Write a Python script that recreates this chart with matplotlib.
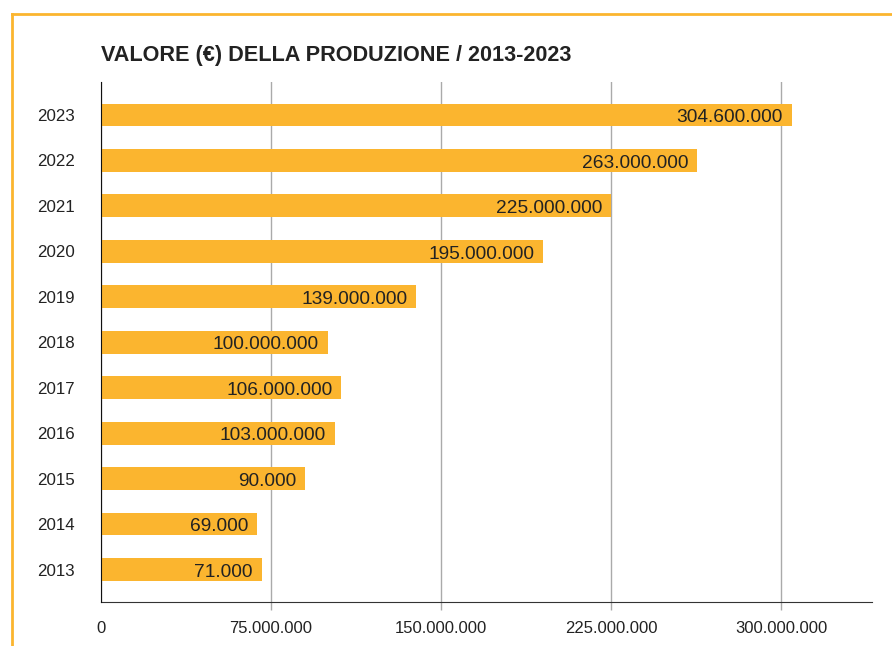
import matplotlib.pyplot as plt
from matplotlib.lines import Line2D

# valore della produzione, milioni di euro
anni = ['2013', '2014', '2015', '2016', '2017', '2018', '2019', '2020', '2021', '2022', '2023']
valori = [71, 69, 90, 103, 106, 100, 139, 195, 225, 263, 304.6]
etichette = ['71.000', '69.000', '90.000', '103.000.000', '106.000.000', '100.000.000',
             '139.000.000', '195.000.000', '225.000.000', '263.000.000', '304.600.000']
tick_x = [0, 75, 150, 225, 300]
tick_lbl = ['0', '75.000.000', '150.000.000', '225.000.000', '300.000.000']

ARANCIO = '#FBB52F'
TESTO = '#222222'

plt.rcParams['font.family'] = ['Liberation Sans', 'DejaVu Sans']

fig = plt.figure(figsize=(8.92, 6.46), dpi=100)
ax = fig.add_axes([101 / 892, 1 - 602 / 646, 771 / 892, 520 / 646])

y = list(range(len(anni)))
ax.barh(y, valori, height=0.5, color=ARANCIO, zorder=2)
for yi, v, t in zip(y, valori, etichette):
    ax.annotate(t, (v, yi), xytext=(-6.5, -0.5), textcoords='offset points',
                ha='right', va='center_baseline', fontsize=13.8, color=TESTO, zorder=3)

ax.set_xlim(0, 340)
ax.set_ylim(-0.715, 10.725)
ax.set_yticks(y)
ax.set_yticklabels(anni, fontsize=12.2, color=TESTO)
ax.set_xticks(tick_x)
ax.set_xticklabels(tick_lbl, fontsize=12, color=TESTO)
ax.tick_params(axis='y', length=0, pad=19)
ax.tick_params(axis='x', length=6, width=1, color='#aaaaaa', pad=8)
ax.xaxis.get_major_ticks()[0].tick1line.set_visible(False)

ax.grid(axis='x', color='#aaaaaa', linewidth=1, zorder=1)
ax.set_axisbelow(True)
for s in ['top', 'right']:
    ax.spines[s].set_visible(False)
ax.spines['left'].set_color('#111111')
ax.spines['bottom'].set_color('#333333')
ax.spines['left'].set_zorder(4)

fig.text(101 / 892, 1 - 61 / 646, 'VALORE (€) DELLA PRODUZIONE / 2013-2023',
         fontsize=15.6, fontweight='bold', color=TESTO, va='baseline', ha='left')

# cornice arancione in alto e a sinistra
fig.add_artist(Line2D([12 / 892, 1], [1 - 14 / 646, 1 - 14 / 646],
                      transform=fig.transFigure, color=ARANCIO, linewidth=2))
fig.add_artist(Line2D([12 / 892, 12 / 892], [0, 1 - 14 / 646],
                      transform=fig.transFigure, color=ARANCIO, linewidth=2))

fig.savefig('out.png', dpi=100)
